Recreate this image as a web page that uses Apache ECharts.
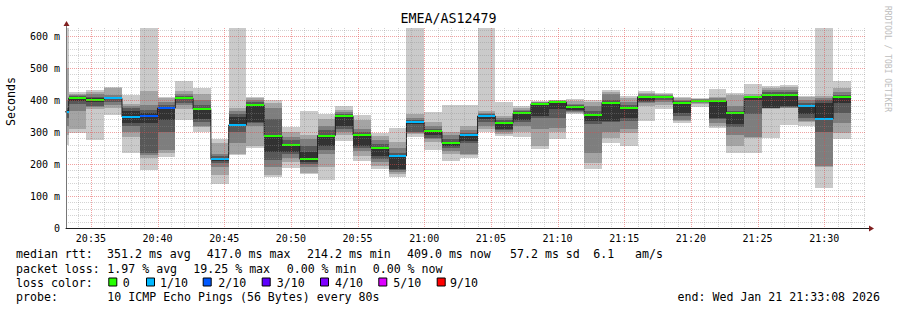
<!DOCTYPE html>
<html><head><meta charset="utf-8">
<script src="https://cdn.jsdelivr.net/npm/echarts@6/dist/echarts.min.js"></script>
<style>html,body{margin:0;padding:0;background:#fff}#c{width:897px;height:310px}</style>
</head><body><div id="c"></div>
<script>
// ---------- data ----------
const chartTitle = 'EMEA/AS12479';
const axisStart = '20:33:08';
const axisEnd = '21:33:08';
const stepSeconds = 80;
const stepStarts = ['20:32:00','20:33:20','20:34:40','20:36:00','20:37:20','20:38:40','20:40:00','20:41:20','20:42:40',
  '20:44:00','20:45:20','20:46:40','20:48:00','20:49:20','20:50:40','20:52:00','20:53:20','20:54:40','20:56:00',
  '20:57:20','20:58:40','21:00:00','21:01:20','21:02:40','21:04:00','21:05:20','21:06:40','21:08:00','21:09:20',
  '21:10:40','21:12:00','21:13:20','21:14:40','21:16:00','21:17:20','21:18:40','21:20:00','21:21:20','21:22:40',
  '21:24:00','21:25:20','21:26:40','21:28:00','21:29:20','21:30:40'];
const medians = [363,406,400,405,347,351,375,405,371,214.2,322,384,288,260,215,289,349,290,250,225,330,302,265,290,350,
  329,359,388,393,379,352,392,375,410,410,391,398,396,358,409,417,415,381,341,409];
const lossTenths = [1,0,0,1,1,2,2,0,0,1,1,0,0,0,0,0,0,0,0,1,1,0,0,1,1,0,0,0,0,0,0,0,0,0,0,0,0,0,0,0,0,0,1,1,0];
// ten sorted ping rtts (ms) per step
const pings = [
  [259,290,320,345,358,368,376,400,500,640],
  [298,310,365,386,397,410,413,416,420,425],
  [275,372,378,381,395,405,410,418,425,430],
  [353,375,385,395,403,407,410,415,436,440],
  [235,284,300,320,329,366,375,380,388,415],
  [181,220,228,235,329,360,370,384,428,640],
  [223,235,244,301,339,376,385,395,405,410],
  [338,372,385,392,402,408,412,420,428,459],
  [300,315,318,330,340,371,385,400,418,438],
  [138,166,190,204,210,214,225,232,265,277],
  [228,232,265,300,322,348,355,365,376,640],
  [249,256,320,328,330,388,395,400,405,410],
  [160,166,190,211,238,290,340,375,390,400],
  [188,205,220,230,237,260,275,285,300,316],
  [169,173,190,200,206,237,255,277,292,365],
  [149,190,230,245,256,290,305,320,340,355],
  [272,290,300,310,318,349,355,362,370,381],
  [209,225,240,250,256,290,300,310,336,353],
  [183,195,205,215,225,250,262,275,287,298],
  [159,170,175,180,183,227,235,250,270,313],
  [284,295,298,300,324,330,338,345,355,640],
  [243,270,278,282,290,302,310,320,330,362],
  [209,230,240,251,255,265,278,290,301,384],
  [219,228,230,265,272,290,298,305,318,384],
  [300,310,320,330,340,350,357,360,365,640],
  [287,295,300,305,310,329,338,345,350,395],
  [284,300,320,330,339,359,365,368,375,381],
  [248,256,308,345,350,389,391,393,395,398],
  [279,300,313,345,371,395,397,398,399,400],
  [355,360,362,365,370,381,384,388,397,402],
  [185,204,235,324,334,355,365,380,395,400],
  [266,282,300,330,334,392,400,418,425,430],
  [256,298,310,335,343,376,385,395,405,412],
  [334,380,390,395,397,410,414,418,423,427],
  [371,385,395,400,405,410,413,416,420,423],
  [329,335,339,350,360,391,396,400,405,409],
  [379,386,390,393,396,400,401,402,403,405],
  [313,320,329,340,345,396,400,405,408,435],
  [235,256,290,315,324,358,365,380,416,423],
  [235,280,284,356,400,409,411,413,420,450],
  [282,372,374,375,376,417,425,432,438,445],
  [322,374,376,378,381,415,425,432,440,446],
  [318,330,334,345,355,381,392,400,408,412],
  [124,190,194,300,341,391,400,405,412,640],
  [277,298,329,360,391,409,415,425,438,459]
];
const yMax = 625;
const xTickLabels = ['20:35','20:40','20:45','20:50','20:55','21:00','21:05','21:10','21:15','21:20','21:25','21:30'];
const yTickValues = [0,100,200,300,400,500,600];
const yTickLabels = ['0','100 m','200 m','300 m','400 m','500 m','600 m'];
const lossLegendValues = [0,1,2,3,4,5,9];
const lossLegendLabels = ['0','1/10','2/10','3/10','4/10','5/10','9/10'];
const lossLegendColors = ['#26ff00','#00b8ff','#0059ff','#5e00ff','#7e00ff','#dd00ff','#ff0000'];
const smokeColors = ['#cacaca','#a4a4a4','#7e7e7e','#585858','#323232'];
const legendMedian = ['median rtt:','351.2 ms avg','417.0 ms max','214.2 ms min','409.0 ms now','57.2 ms sd','6.1','am/s'];
const legendLoss = ['packet loss:','1.97 % avg','19.25 % max','0.00 % min','0.00 % now'];
const legendLossTitle = 'loss color:';
const legendProbe = ['probe:','10 ICMP Echo Pings (56 Bytes) every 80s'];
const legendEnd = 'end: Wed Jan 21 21:33:08 2026';
const yAxisTitle = 'Seconds';
const watermark = 'RRDTOOL / TOBI OETIKER';

// ---------- layout / style ----------
const G = {left:66, top:28, width:800, height:200};
const MONO = '"DejaVu Sans Mono", monospace';
const legendFont = '11.6px ' + MONO;
const medianX = [16,107,206.7,307,407,510,593.3,635];
const lossX = [16,107.3,193.3,286.7,372.7];
const boxX = [108.3,146,202.7,261.7,320,378.3,436.7];
const boxLabelX = [122.7,160,218.3,276.7,335,393.3,450];
const lineY = [254,268.5,282.5,296.5];
const minorGridColor = 'rgba(140,140,140,0.38)';
const majorGridColor = 'rgba(225,70,70,0.5)';
const minorGridX = 60000, majorGridX = 300000, minorGridY = 20, majorGridY = 100;

function toMs(s){const p=s.split(':').map(Number);return Date.UTC(2026,0,21,p[0],p[1],p[2]||0);}
function lossColor(v){return lossLegendColors[lossLegendValues.indexOf(v)];}
const xTickValues = xTickLabels.map(s=>toMs(s));

const smokeData = stepStarts.map((s,i)=>[toMs(s), toMs(s)+stepSeconds*1000].concat(pings[i]));
const bandData = stepStarts.map((s,i)=>[toMs(s), toMs(s)+stepSeconds*1000, medians[i], lossTenths[i]]);
const lineData = stepStarts.map((s,i)=>[toMs(s), medians[i]]);
lineData.push([toMs(stepStarts[stepStarts.length-1])+stepSeconds*1000, medians[medians.length-1]]);

function clip(r, cs){return echarts.graphic.clipRectByRect(r,{x:cs.x,y:cs.y,width:cs.width,height:cs.height});}

function renderSmoke(params, api){
  const cs = params.coordSys;
  const t0 = api.value(0), t1 = api.value(1);
  const kids = [];
  for (let k=0;k<5;k++){
    const a = api.coord([t0, api.value(11-k)]);
    const b = api.coord([t1, api.value(2+k)]);
    const x0=Math.round(a[0]), x1=Math.round(b[0]), y0=Math.round(a[1]), y1=Math.round(b[1]);
    const sh = clip({x:x0,y:y0,width:x1-x0,height:y1-y0}, cs);
    if (sh) kids.push({type:'rect', shape:sh, style:{fill:smokeColors[k]}});
  }
  return {type:'group', children:kids};
}
function renderBand(params, api){
  const cs = params.coordSys;
  const a = api.coord([api.value(0), api.value(2)]);
  const b = api.coord([api.value(1), api.value(2)]);
  const x0=Math.round(a[0]), x1=Math.round(b[0]), yc=Math.round(a[1]);
  const sh = clip({x:x0,y:yc-1,width:x1-x0,height:2}, cs);
  if (!sh) return null;
  return {type:'rect', shape:sh, style:{fill:lossColor(api.value(3))}};
}

const gfx = [];
function txt(x,y,text,opt){
  opt = opt||{};
  gfx.push({type:'text', x:x, y:y, rotation:opt.rot||0, silent:true, z:50,
    style:{text:text, font:opt.font||legendFont, fill:opt.fill||'#000',
      align:opt.align||'left', verticalAlign:'middle', textAlign:opt.align||'left', textVerticalAlign:'middle'}});
}
legendMedian.forEach((t,i)=>txt(medianX[i], lineY[0], t));
legendLoss.forEach((t,i)=>txt(lossX[i], lineY[1], t));
txt(16, lineY[2], legendLossTitle);
lossLegendLabels.forEach((t,i)=>{
  gfx.push({type:'rect', silent:true, z:50, shape:{x:boxX[i]+0.5, y:lineY[2]-4.5, width:8, height:8},
    style:{fill:lossLegendColors[i], stroke:'#000', lineWidth:1}});
  txt(boxLabelX[i], lineY[2], t);
});
txt(16, lineY[3], legendProbe[0]);
txt(107.3, lineY[3], legendProbe[1]);
txt(880, lineY[3], legendEnd, {align:'right'});
txt(11, 126, yAxisTitle, {rot:Math.PI/2});
txt(887, 59, watermark, {rot:-Math.PI/2, font:'8px '+MONO, fill:'#bdbdbd', align:'center'});
// axis arrows
gfx.push({type:'line', silent:true, z:50, shape:{x1:G.left+G.width, y1:G.top+G.height+0.5, x2:G.left+G.width+4, y2:G.top+G.height+0.5}, style:{stroke:'#1f1f1f', lineWidth:1}});
gfx.push({type:'polygon', silent:true, z:51, shape:{points:[[G.left+G.width+3,G.top+G.height-2.5],[G.left+G.width+8,G.top+G.height+0.5],[G.left+G.width+3,G.top+G.height+3.5]]}, style:{fill:'#801f1f'}});
gfx.push({type:'line', silent:true, z:50, shape:{x1:G.left+0.5, y1:G.top, x2:G.left+0.5, y2:G.top-3}, style:{stroke:'#777', lineWidth:1}});
gfx.push({type:'polygon', silent:true, z:51, shape:{points:[[G.left-2.5,G.top-2],[G.left+0.5,G.top-7],[G.left+3.5,G.top-2]]}, style:{fill:'#801f1f'}});

const option = {
  animation:false,
  backgroundColor:'#ffffff',
  title:{text:chartTitle, left:'center', top:12, padding:0,
    textStyle:{fontFamily:MONO, fontSize:13.3, fontWeight:'normal', color:'#000'}},
  grid:{left:G.left, top:G.top, width:G.width, height:G.height, containLabel:false},
  xAxis:{type:'value', min:toMs(axisStart), max:toMs(axisEnd), z:11,
    axisLine:{show:true, lineStyle:{color:'#1f1f1f', width:1}}, axisTick:{show:false},
    axisLabel:{show:true, margin:5, fontFamily:MONO, fontSize:10, color:'#000', hideOverlap:false,
      customValues: xTickValues,
      formatter:function(v){const i=xTickValues.indexOf(v); return i<0?'':xTickLabels[i];}},
    splitLine:{show:false}},
  yAxis:{type:'value', min:0, max:yMax, z:11,
    axisLine:{show:true, lineStyle:{color:'#777', width:1}}, axisTick:{show:false},
    axisLabel:{margin:6, fontFamily:MONO, fontSize:10, color:'#000', customValues:yTickValues,
      formatter:function(v){const i=yTickValues.indexOf(v); return i<0?'':yTickLabels[i];}},
    splitLine:{show:false}},
  series:[
    {type:'custom', name:'smoke', z:1, renderItem:renderSmoke, data:smokeData, itemStyle:{color:smokeColors[0]},
      encode:{x:[0,1], y:[2,3,4,5,6,7,8,9,10,11]}, silent:true},
    {type:'line', name:'median', z:2, step:'end', data:lineData, symbol:'none', itemStyle:{color:'#202020'},
      lineStyle:{color:'#202020', width:1}, silent:true, clip:true},
    {type:'custom', name:'loss', z:3, renderItem:renderBand, data:bandData, itemStyle:{color:lossLegendColors[0]},
      encode:{x:[0,1], y:2}, silent:true}
  ],
  graphic:{elements:gfx}
};
const chart = echarts.init(document.getElementById('c'), null, {renderer:'svg'});
chart.setOption(option);

// dotted rrdtool-style grid on top of the data, positioned through the axes
const gridEls = [];
(function(){
  const t0 = toMs(axisStart), t1 = toMs(axisEnd);
  const top = G.top, bot = G.top + G.height, left = G.left, right = G.left + G.width;
  for (let t = Math.ceil(t0/minorGridX)*minorGridX; t < t1; t += minorGridX){
    const major = t % majorGridX === 0;
    const x = Math.round(chart.convertToPixel({xAxisIndex:0}, t)) + 0.5;
    if (x <= left+1) continue;
    gridEls.push({type:'line', silent:true, z: major?12:11, shape:{x1:x,y1:top,x2:x,y2:bot},
      style:{stroke: major?majorGridColor:minorGridColor, fill:null, lineWidth:1, lineDash:[1,1]}});
  }
  for (let v = minorGridY; v < yMax; v += minorGridY){
    const major = v % majorGridY === 0;
    const y = Math.round(chart.convertToPixel({yAxisIndex:0}, v)) + 0.5;
    gridEls.push({type:'line', silent:true, z: major?12:11, shape:{x1:left,y1:y,x2:right,y2:y},
      style:{stroke: major?majorGridColor:minorGridColor, fill:null, lineWidth:1, lineDash:[1,1]}});
  }
})();
chart.setOption({graphic:{elements:gfx.concat(gridEls)}});
</script></body></html>
